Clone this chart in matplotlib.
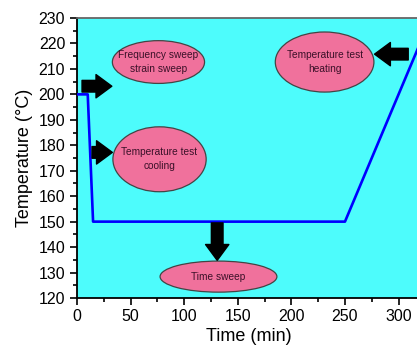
import matplotlib.pyplot as plt
from matplotlib.patches import Ellipse
from matplotlib.ticker import MultipleLocator

plt.rcParams['font.family'] = ['Liberation Sans', 'DejaVu Sans']

# temperature program
time = [0, 10, 15, 250, 330]
temp = [200, 200, 150, 150, 230]

# annotation bubbles: label, centre time, centre temp, width (min), height (degC)
labels = ["Frequency sweep\nstrain sweep", "Temperature test\ncooling",
          "Temperature test\nheating", "Time sweep"]
lab_x = [76, 77, 231, 132]
lab_y = [212.7, 174.5, 212.7, 128.4]
lab_w = [86, 87, 92, 109]
lab_h = [16.8, 25.5, 23.6, 12.2]

# arrows: tail -> head
arr_x0 = [4.7, 14, 309, 130.8]
arr_y0 = [203.2, 177.2, 215.8, 149.5]
arr_x1 = [32.5, 33, 277.6, 130.8]
arr_y1 = [203.2, 177.2, 215.8, 134.8]

fig = plt.figure(figsize=(4.17, 3.49), dpi=100)
ax = fig.add_axes([77/417, 51/349, 343/417, 280/349])
ax.set_facecolor('#4dfcfc')

ax.plot(time, temp, color='#0000ff', lw=1.9, zorder=3)

for lab, x, y, w, h in zip(labels, lab_x, lab_y, lab_w, lab_h):
    ax.add_patch(Ellipse((x, y), w, h, facecolor='#f0719c', edgecolor='#444444',
                         lw=0.9, zorder=4))
    ax.text(x, y, lab, ha='center', va='center', fontsize=7.3, color='#3a1028',
            linespacing=1.5, zorder=5)

for x0, y0, x1, y1 in zip(arr_x0, arr_y0, arr_x1, arr_y1):
    ax.annotate('', xy=(x1, y1), xytext=(x0, y0), zorder=6,
                arrowprops=dict(arrowstyle='simple,head_length=0.95,head_width=1.4,tail_width=0.7',
                                color='black', mutation_scale=12, shrinkA=0, shrinkB=0))

ax.set_xlim(0, 320)
ax.set_ylim(120, 230)
ax.xaxis.set_major_locator(MultipleLocator(50))
ax.xaxis.set_minor_locator(MultipleLocator(25))
ax.yaxis.set_major_locator(MultipleLocator(10))
ax.yaxis.set_minor_locator(MultipleLocator(5))
ax.tick_params(which='both', direction='out', width=1.2, labelsize=11.5, color='black')
ax.tick_params(which='major', length=5)
ax.tick_params(which='minor', length=3)
ax.tick_params(axis='x', pad=3)
for s in ax.spines.values():
    s.set_linewidth(1.3)
ax.spines['top'].set_color('#666666')
ax.spines['right'].set_visible(False)

ax.set_xlabel('Time (min)', fontsize=13, labelpad=3)
ax.set_ylabel('Temperature (\u00b0C)', fontsize=13, labelpad=4)

fig.savefig('out.png', dpi=100)
